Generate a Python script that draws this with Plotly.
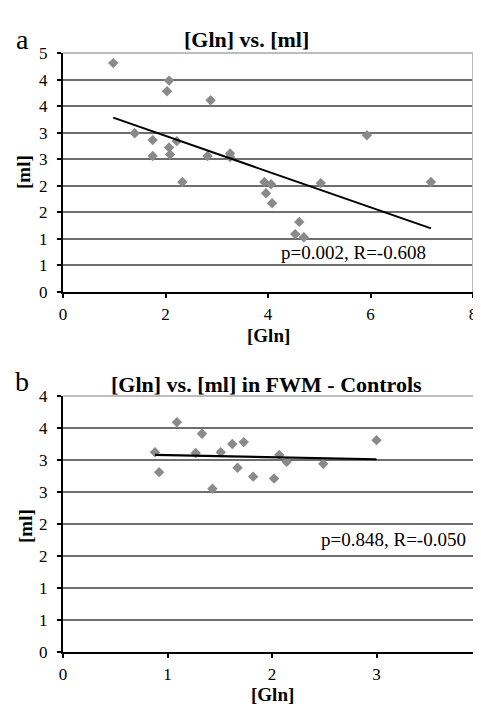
import numpy as np
import plotly.graph_objects as go

# Panel a data
gln_a = [0.98, 2.07, 2.03, 2.88, 1.40, 1.75, 1.75, 2.07, 2.09, 2.22, 2.33, 2.82,
         3.26, 3.26, 3.93, 4.06, 3.96, 4.08, 4.61, 4.53, 4.70, 5.03, 5.93, 7.18]
ml_a = [4.31, 3.98, 3.78, 3.61, 2.99, 2.86, 2.56, 2.72, 2.59, 2.84, 2.07, 2.56,
        2.61, 2.54, 2.07, 2.03, 1.86, 1.67, 1.32, 1.09, 1.03, 2.05, 2.95, 2.07]

# Panel b data
gln_b = [1.09, 1.33, 1.62, 1.73, 3.00, 0.88, 0.92, 1.27, 1.43, 1.51, 1.67, 1.82,
         2.02, 2.07, 2.14, 2.49]
ml_b = [3.59, 3.41, 3.25, 3.28, 3.31, 3.12, 2.81, 3.11, 2.55, 3.12, 2.88, 2.74,
        2.71, 3.08, 2.97, 2.94]

ytick_a_vals = [0, 0.5, 1, 1.5, 2, 2.5, 3, 3.5, 4, 4.5]
ytick_a_text = ["0", "1", "1", "2", "2", "3", "3", "4", "4", "5"]
ytick_b_vals = [0, 0.5, 1, 1.5, 2, 2.5, 3, 3.5, 4]
ytick_b_text = ["0", "1", "1", "2", "2", "3", "3", "4", "4"]

title_a = "[Gln] vs. [ml]"
title_b = "[Gln] vs. [ml] in FWM - Controls"
stat_a = "p=0.002, R=-0.608"
stat_b = "p=0.848, R=-0.050"

# page body has an 8px margin; figure sized so it exactly fills the 481x704 window
OFF = 8
W, H = 481 - OFF, 704 - OFF
SERIF = "Liberation Serif"
MARK = "#8a8a8a"
GRID = "#6e6e6e"


def px(x):
    return (x - OFF) / W


def py(y):
    return 1 - (y - OFF) / H


def fit_line(x, y):
    x = np.asarray(x)
    y = np.asarray(y)
    m, b = np.polyfit(x, y, 1)
    xs = np.array([x.min(), x.max()])
    return xs, m * xs + b


fig = go.Figure()

fig.add_trace(go.Scatter(x=gln_a, y=ml_a, mode="markers", xaxis="x", yaxis="y",
                         marker=dict(symbol="diamond", size=8, color=MARK),
                         showlegend=False))
lx, ly = fit_line(gln_a, ml_a)
fig.add_trace(go.Scatter(x=lx, y=ly, mode="lines", xaxis="x", yaxis="y",
                         line=dict(color="black", width=2), showlegend=False))

fig.add_trace(go.Scatter(x=gln_b, y=ml_b, mode="markers", xaxis="x2", yaxis="y2",
                         marker=dict(symbol="diamond", size=8, color=MARK),
                         showlegend=False))
lx2, ly2 = fit_line(gln_b, ml_b)
fig.add_trace(go.Scatter(x=lx2, y=ly2, mode="lines", xaxis="x2", yaxis="y2",
                         line=dict(color="black", width=2.2), showlegend=False))

axis_common = dict(showline=True, linecolor="black", linewidth=2,
                   ticks="outside", ticklen=4, tickwidth=2, tickcolor="black",
                   tickfont=dict(family=SERIF, size=17, color="black"),
                   zeroline=False, automargin=False, ticklabeloverflow="allow")

fig.update_layout(
    template="none",
    width=W, height=H,
    margin=dict(l=0, r=0, t=0, b=0),
    paper_bgcolor="white", plot_bgcolor="white",
    xaxis=dict(domain=[px(63), px(473)], range=[0, 8], dtick=2, tick0=0,
               showgrid=False, anchor="y", ticklabelstandoff=2, **axis_common),
    yaxis=dict(domain=[py(292), py(53)], range=[0, 4.5],
               tickvals=ytick_a_vals, ticktext=ytick_a_text,
               showgrid=True, gridcolor=GRID, gridwidth=1.6, anchor="x",
               ticklabelstandoff=6, **axis_common),
    xaxis2=dict(domain=[px(63), 1.0], range=[0, 4], dtick=1, tick0=0,
                showgrid=False, anchor="y2", ticklabelstandoff=2, **axis_common),
    yaxis2=dict(domain=[py(652), py(396)], range=[0, 4],
                tickvals=ytick_b_vals, ticktext=ytick_b_text,
                showgrid=True, gridcolor=GRID, gridwidth=1.6, anchor="x2",
                ticklabelstandoff=6, **axis_common),
)

border = "#bdbdbd"
shapes = []
for xr, yr in (("x domain", "y domain"), ("x2 domain", "y2 domain")):
    shapes.append(dict(type="line", xref=xr, yref=yr, x0=0, x1=1, y0=1, y1=1,
                       line=dict(color=border, width=2), layer="above"))
    shapes.append(dict(type="line", xref=xr, yref=yr, x0=1, x1=1, y0=0, y1=1,
                       line=dict(color=border, width=2), layer="above"))
fig.update_layout(shapes=shapes)

bold = dict(family=SERIF, size=22, color="black")
axt = dict(family=SERIF, size=19, color="black")
stat = dict(family=SERIF, size=19, color="black")
annotations = [
    dict(text="<b>" + title_a + "</b>", x=px(247), y=py(40), font=bold),
    dict(text="<b>" + title_b + "</b>", x=px(266), y=py(384), font=bold),
    dict(text="a", x=px(22), y=py(40), font=dict(family=SERIF, size=28, color="black")),
    dict(text="b", x=px(22), y=py(381), font=dict(family=SERIF, size=28, color="black")),
    dict(text="<b>[ml]</b>", x=px(23), y=py(172), textangle=-90, font=axt),
    dict(text="<b>[ml]</b>", x=px(25), y=py(526), textangle=-90, font=axt),
    dict(text="<b>[Gln]</b>", x=px(268), y=py(335), font=axt),
    dict(text="<b>[Gln]</b>", x=px(272), y=py(694), font=axt),
    dict(text=stat_a, x=px(353), y=py(252), font=stat),
    dict(text=stat_b, x=px(393), y=py(539), font=stat),
]
for a in annotations:
    a.update(xref="paper", yref="paper", showarrow=False, xanchor="center", yanchor="middle")
fig.update_layout(annotations=annotations)

fig.write_html("out.html")
